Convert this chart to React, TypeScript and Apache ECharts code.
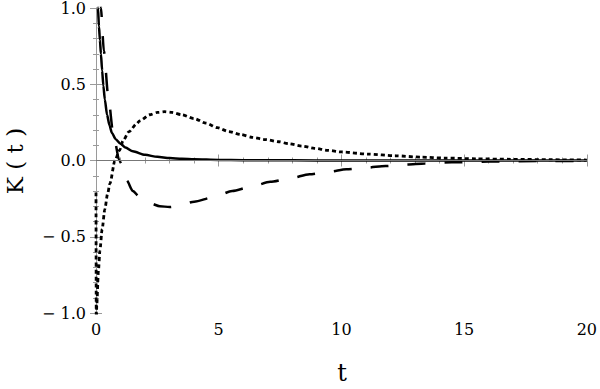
import React, { useEffect, useRef } from "react";
import * as echarts from "echarts";

const xTicks = [0, 5, 10, 15, 20];
const yTicks = [-1.0, -0.5, 0.0, 0.5, 1.0];

const solidCurve: [number, number][] = [
  [0.05, 1.3], [0.08, 1.0], [0.12, 0.88], [0.16, 0.79], [0.2, 0.7], [0.25, 0.59],
  [0.3, 0.49], [0.36, 0.4], [0.45, 0.3], [0.55, 0.23], [0.65, 0.18], [0.8, 0.14],
  [1.0, 0.11], [1.2, 0.085], [1.5, 0.06], [2.0, 0.037], [2.5, 0.024], [3.0, 0.016],
  [3.5, 0.011], [4.0, 0.008], [5.0, 0.004], [6.0, 0.002], [8.0, 0.001], [10.0, 0.0],
  [20.0, 0.0],
];

const dashedCurve: [number, number][] = [
  [0.15, 1.3], [0.2, 1.0], [0.32, 0.72], [0.5, 0.42], [0.7, 0.18], [0.95, 0.0],
  [1.25, -0.13], [1.5, -0.2], [1.78, -0.24], [2.2, -0.28], [2.6, -0.3], [3.0, -0.305],
  [3.3, -0.3], [4.0, -0.27], [4.8, -0.24], [5.55, -0.2], [6.36, -0.17], [7.1, -0.14],
  [7.9, -0.117], [8.7, -0.09], [9.5, -0.073], [10.2, -0.058], [11.0, -0.047],
  [11.8, -0.036], [12.65, -0.026], [13.4, -0.019], [14.5, -0.012], [16.0, -0.007],
  [18.0, -0.004], [20.0, -0.002],
];

const dottedCurve: [number, number][] = [
  [0.0, -0.21], [0.012, -1.1], [0.03, -0.95], [0.1, -0.72], [0.16, -0.59], [0.25, -0.45],
  [0.36, -0.32], [0.47, -0.22], [0.57, -0.15], [0.77, 0.0], [0.97, 0.07], [1.1, 0.13],
  [1.35, 0.19], [1.65, 0.24], [1.78, 0.26], [2.19, 0.3], [2.5, 0.315], [2.8, 0.32],
  [3.1, 0.315], [3.5, 0.3], [4.0, 0.275], [4.48, 0.245], [4.95, 0.215], [5.4, 0.19],
  [5.9, 0.17], [6.37, 0.152], [6.9, 0.137], [7.45, 0.123], [7.85, 0.11], [8.4, 0.094],
  [8.9, 0.08], [9.45, 0.067], [10.0, 0.056], [11.1, 0.042], [12.2, 0.031],
  [13.25, 0.022], [14.2, 0.016], [15.5, 0.011], [16.9, 0.008], [18.5, 0.005], [20.0, 0.003],
];

const FONT = "DejaVu Serif";
const FRAME = "#9a9a9a";

export default function App() {
  const ref = useRef<HTMLDivElement>(null);
  useEffect(() => {
    if (!ref.current) return;
    const chart = echarts.init(ref.current, undefined, { renderer: "svg" });
    const xMin = xTicks[0];
    const xMax = xTicks[xTicks.length - 1];
    const yMin = yTicks[0];
    const yMax = yTicks[yTicks.length - 1];
    const baseX = {
      type: "value" as const,
      min: xMin,
      max: xMax,
      interval: 5,
      splitLine: { show: false },
      axisLine: { show: true, lineStyle: { color: FRAME, width: 1 } },
      axisTick: { show: true, inside: true, length: 6, lineStyle: { color: FRAME } },
      minorTick: { show: true, splitNumber: 5, length: 3, lineStyle: { color: FRAME } },
    };
    const baseY = {
      type: "value" as const,
      min: yMin,
      max: yMax,
      interval: 0.5,
      splitLine: { show: false },
      axisLine: { show: true, lineStyle: { color: FRAME, width: 1 } },
      axisTick: { show: true, inside: true, length: 6, lineStyle: { color: FRAME } },
      minorTick: { show: true, splitNumber: 5, length: 3, lineStyle: { color: FRAME } },
    };
    chart.setOption({
      animation: false,
      textStyle: { fontFamily: FONT },
      grid: { left: 96, right: 10, top: 8, bottom: 76, containLabel: false },
      xAxis: [
        {
          ...baseX,
          position: "bottom",
          axisLabel: { show: true, color: "#000", fontFamily: FONT, fontSize: 16, margin: 8 },
        },
        { ...baseX, position: "top", axisLabel: { show: false } },
      ],
      yAxis: [
        {
          ...baseY,
          position: "left",
          axisLabel: {
            show: true,
            color: "#000",
            fontFamily: FONT,
            fontSize: 16,
            margin: 10,
            formatter: (v: number) => (v < 0 ? "\u2212 " + Math.abs(v).toFixed(1) : v.toFixed(1)),
          },
        },
        { ...baseY, position: "right", axisLabel: { show: false } },
      ],
      graphic: [
        {
          type: "text",
          x: 15,
          y: 161,
          rotation: Math.PI / 2,
          style: {
            text: "K ( t )",
            fontFamily: FONT,
            fontSize: 23,
            fill: "#000",
            align: "center",
            verticalAlign: "middle",
          },
        },
        {
          type: "text",
          x: 342,
          y: 373,
          style: {
            text: "t",
            fontFamily: FONT,
            fontSize: 24,
            fill: "#000",
            align: "center",
            verticalAlign: "middle",
          },
        },
      ],
      series: [
        {
          type: "line",
          name: "solid",
          data: solidCurve,
          showSymbol: false,
          smooth: 0.25,
          smoothMonotone: "x",
          clip: true,
          lineStyle: { color: "#000", width: 2.5, type: "solid" },
          markLine: {
            silent: true,
            symbol: "none",
            label: { show: false },
            lineStyle: { color: "#777", width: 1, type: "solid" },
            data: [{ yAxis: 0 }],
          },
          z: 3,
        },
        {
          type: "line",
          name: "dashed",
          data: dashedCurve,
          showSymbol: false,
          smooth: 0.25,
          smoothMonotone: "x",
          clip: true,
          lineStyle: { color: "#000", width: 2.5, type: [18, 19] },
          z: 3,
        },
        {
          type: "line",
          name: "dotted",
          data: dottedCurve,
          showSymbol: false,
          smooth: 0.25,
          smoothMonotone: "x",
          clip: true,
          lineStyle: { color: "#000", width: 2.8, type: [4, 3] },
          z: 3,
        },
      ],
    });
    return () => chart.dispose();
  }, []);
  return <div ref={ref} style={{ width: 600, height: 389, position: "absolute", left: 0, top: 0 }} />;
}
